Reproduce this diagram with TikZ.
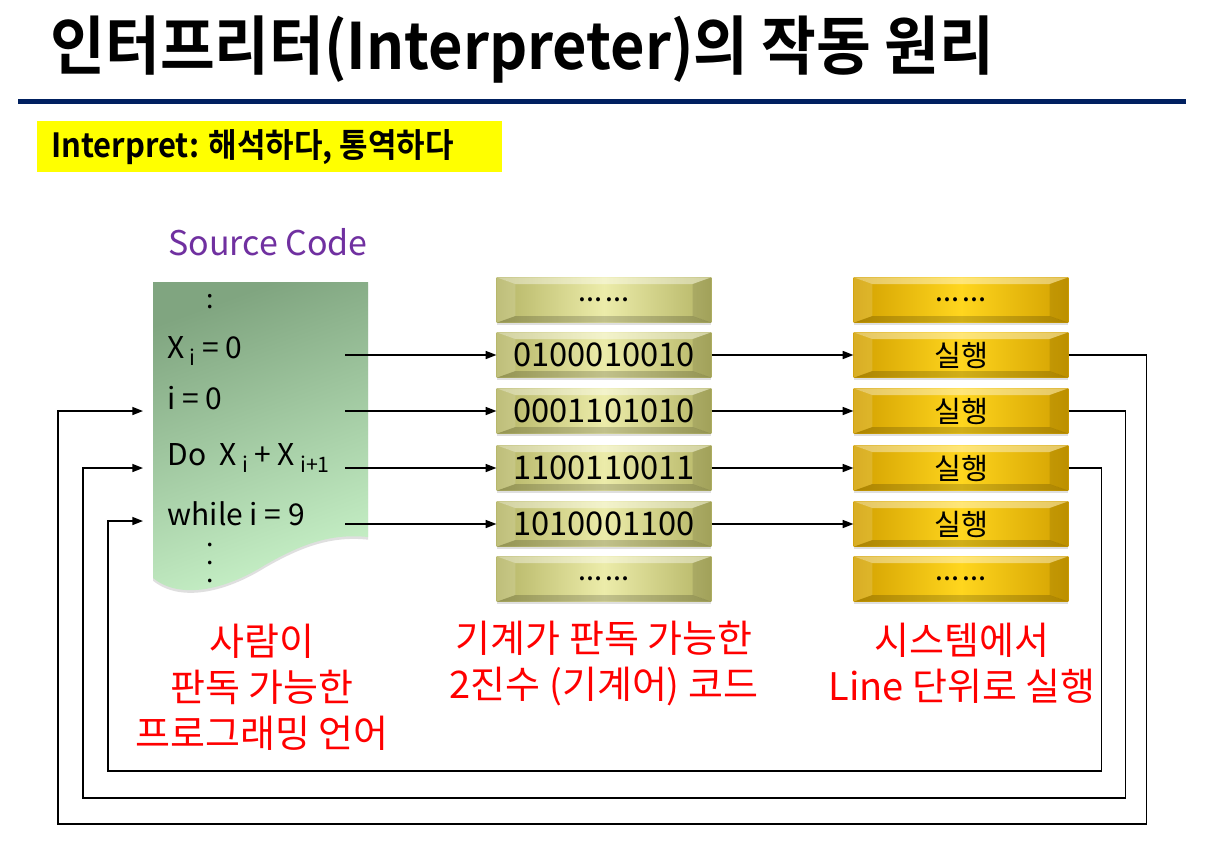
\documentclass[tikz,border=0pt]{standalone}
\usepackage{fontspec}
\setmainfont{Noto Sans CJK KR}[BoldFont={Noto Sans CJK KR Bold}]
\newfontfamily\titlefont{Noto Sans CJK KR Bold}[FakeStretch=0.93]
\usetikzlibrary{arrows.meta,shadows}
\definecolor{rulenavy}{RGB}{0,32,96}
\definecolor{codepurple}{RGB}{112,48,160}
\definecolor{labelred}{RGB}{255,0,0}
\definecolor{hlyellow}{RGB}{255,255,0}
\definecolor{oliveedge}{RGB}{180,180,100}
\definecolor{olivemid}{RGB}{236,236,170}
\definecolor{goldedge}{RGB}{210,160,0}
\definecolor{goldmid}{RGB}{255,214,30}
\definecolor{greendark}{RGB}{128,165,128}
\definecolor{greenlight}{RGB}{200,242,200}
\newcommand\lowidx[1]{\,\raisebox{-0.45ex}{\fontsize{16pt}{16pt}\selectfont #1}}
\newcommand\codevdots{\vbox{\baselineskip13.5pt\hbox{.}\hbox{.}\hbox{.}}}

\begin{document}
\begin{tikzpicture}[x=0.75pt, y=-0.75pt,
      bevel/.style={path picture={
        \coordinate (bnw) at (path picture bounding box.north west);
        \coordinate (bne) at (path picture bounding box.north east);
        \coordinate (bsw) at (path picture bounding box.south west);
        \coordinate (bse) at (path picture bounding box.south east);
        \fill[white, opacity=0.4] (bnw) -- (bne) -- ([shift={(-14pt,-5pt)}]bne) -- ([shift={(14pt,-5pt)}]bnw) -- cycle;
        \fill[black, opacity=0.18] (bsw) -- (bse) -- ([shift={(-14pt,5pt)}]bse) -- ([shift={(14pt,5pt)}]bsw) -- cycle;
        \fill[white, opacity=0.15] (bnw) -- ([shift={(14pt,-5pt)}]bnw) -- ([shift={(14pt,5pt)}]bsw) -- (bsw) -- cycle;
        \fill[black, opacity=0.1] (bne) -- ([shift={(-14pt,-5pt)}]bne) -- ([shift={(-14pt,5pt)}]bse) -- (bse) -- cycle;
      }},
      cell/.style={bevel, minimum width=161pt, minimum height=34pt, inner sep=0pt,
        drop shadow={opacity=0.25, shadow xshift=0pt, shadow yshift=-1.5pt}},
      binbox/.style={cell, left color=oliveedge, right color=oliveedge, middle color=olivemid, font=\fontsize{24.5pt}{24.5pt}\selectfont},
      runbox/.style={cell, left color=goldedge, right color=goldedge, middle color=goldmid, font=\fontsize{22pt}{22pt}\selectfont},
      gap/.style={font=\bfseries\fontsize{16pt}{16pt}\selectfont},
      codeline/.style={anchor=west, inner sep=1pt, font=\fontsize{22.5pt}{22.5pt}\selectfont},
      redlabel/.style={text=labelred, align=center, font=\fontsize{28.5pt}{34.5pt}\selectfont},
      flow/.style={-{Triangle[length=8pt,width=6pt]}, line width=1.1pt}
    ]
      \useasboundingbox (0,0) rectangle (1209,844);
      \fill[white] (0,0) rectangle (1209,844);

      % Title and definition
      \node[anchor=west, font=\titlefont\fontsize{48pt}{48pt}\selectfont] (title) at (46,50) {인터프리터(Interpreter)의 작동 원리};
      \draw[rulenavy, line width=3.75pt] (18,101) -- (1186,101);
      \node[anchor=north west, fill=hlyellow, minimum width=348.75pt, minimum height=38.25pt, inner sep=0pt] (defbox) at (37,121) {};
      \node[anchor=west, font=\titlefont\fontsize{25pt}{25pt}\selectfont] (deftext) at ([xshift=7pt]defbox.west) {Interpret: 해석하다, 통역하다};

      % Source code sheet
      \node[text=codepurple, font=\fontsize{25.5pt}{25.5pt}\selectfont] (srclabel) at (268,242) {Source Code};
      \shade[top color=greendark, bottom color=greenlight, shading angle=20, drop shadow={opacity=0.25, shadow xshift=0pt, shadow yshift=-2pt}]
        (153,282) -- (368,282) -- (368,537) .. controls (330,533) and (300,545) .. (265,565)
        .. controls (225,590) and (180,600) .. (153,578) -- cycle;
      \node[inner sep=0pt, font=\fontsize{20pt}{20pt}\selectfont] (dotstop) at (210,302) {:};
      \node[codeline] (linexi) at (166,351) {X\lowidx{i} = 0};
      \node[codeline] (linei) at (166,398) {i = 0};
      \node[codeline] (linedo) at (166,458) {Do\ \ X\lowidx{i} + X\lowidx{i+1}};
      \node[codeline] (linewhile) at (166,514) {while i = 9};
      \node[inner sep=0pt, font=\fontsize{20pt}{20pt}\selectfont] (dotsbot) at (210,563) {\codevdots};
      \coordinate (out1) at (345,355);
      \coordinate (out2) at (345,411);
      \coordinate (out3) at (345,468);
      \coordinate (out4) at (345,524);
      \coordinate (in1) at (143,411);
      \coordinate (in2) at (143,468);
      \coordinate (in3) at (143,521);

      % Machine code column
      \node[binbox, gap] (bin0) at (604,300) {\ldots\,\ldots};
      \node[binbox] (bin1) at (604,355) {0100010010};
      \node[binbox] (bin2) at (604,411) {0001101010};
      \node[binbox] (bin3) at (604,468) {1100110011};
      \node[binbox] (bin4) at (604,524) {1010001100};
      \node[binbox, gap] (bin5) at (604,579) {\ldots\,\ldots};

      % Execution column
      \node[runbox, gap] (run0) at (961,300) {\ldots\,\ldots};
      \node[runbox] (run1) at (961,355) {실행};
      \node[runbox] (run2) at (961,411) {실행};
      \node[runbox] (run3) at (961,468) {실행};
      \node[runbox] (run4) at (961,524) {실행};
      \node[runbox, gap] (run5) at (961,579) {\ldots\,\ldots};

      % Forward arrows
      \draw[flow] (out1) -- (bin1.west);
      \draw[flow] (out2) -- (bin2.west);
      \draw[flow] (out3) -- (bin3.west);
      \draw[flow] (out4) -- (bin4.west);
      \draw[flow] (bin1.east) -- (run1.west);
      \draw[flow] (bin2.east) -- (run2.west);
      \draw[flow] (bin3.east) -- (run3.west);
      \draw[flow] (bin4.east) -- (run4.west);

      % Feedback loops
      \draw[flow] (run1.east) -- ++(78,0) |- (58,824) |- (in1);
      \draw[flow] (run2.east) -- ++(57,0) |- (83,798) |- (in2);
      \draw[flow] (run3.east) -- ++(33,0) |- (108,771) |- (in3);

      % Captions
      \node[redlabel] (capsrc) at (262,687) {사람이\\판독 가능한\\프로그래밍 언어};
      \node[redlabel] (capbin) at (604,663) {기계가 판독 가능한\\2진수 (기계어) 코드};
      \node[redlabel] (caprun) at (962,663) {시스템에서\\Line 단위로 실행};
    \end{tikzpicture}
\end{document}
